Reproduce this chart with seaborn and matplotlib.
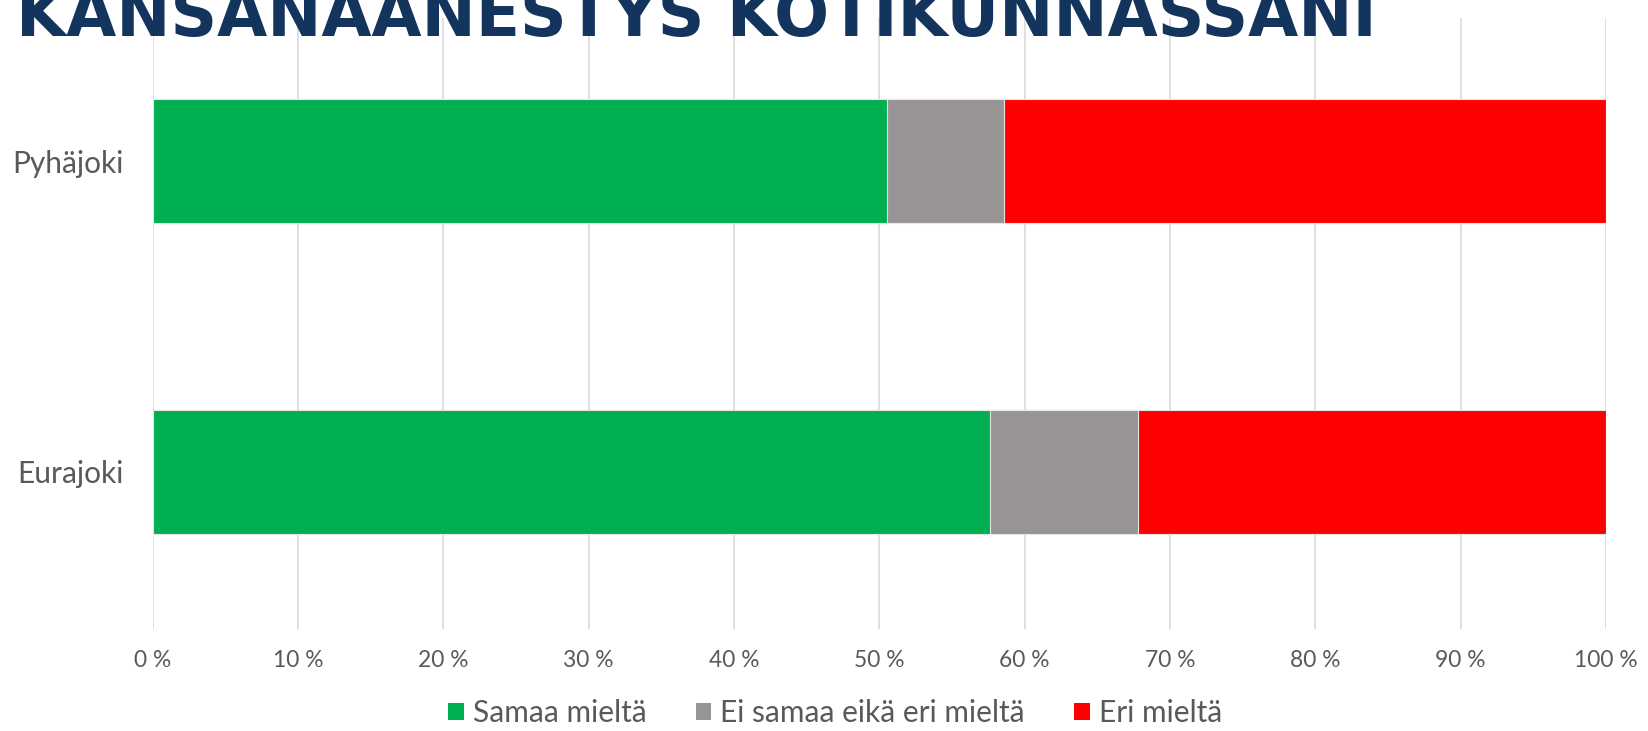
import matplotlib
matplotlib.use("Agg")
import matplotlib.pyplot as plt
import seaborn as sns
import pandas as pd
import numpy as np
from matplotlib.patches import Patch

categories = ["Pyhäjoki", "Eurajoki"]
samaa = [50.5, 57.6]
ei_samaa_eika_eri = [8.1, 10.2]
eri = [41.4, 32.2]
series_names = ["Samaa mieltä", "Ei samaa eikä eri mieltä", "Eri mieltä"]
colors = ["#00B050", "#989395", "#FF0000"]
x_ticks = [0, 10, 20, 30, 40, 50, 60, 70, 80, 90, 100]
title = "KANSANÄÄNESTYS KOTIKUNNASSANI"

sns.set_theme(style="white")
plt.rcParams['font.family'] = ['Lato', 'DejaVu Sans']

fig = plt.figure(figsize=(16.49, 7.31), dpi=100)
ax = fig.add_axes([152.5/1649, 1-629/731, (1606-152.5)/1649, (629-18)/731])

df = pd.DataFrame({"cat": categories, "s": samaa, "e": ei_samaa_eika_eri, "r": eri})
cum3 = df["s"] + df["e"] + df["r"]
cum2 = df["s"] + df["e"]
cum1 = df["s"]
for vals, c in [(cum3, colors[2]), (cum2, colors[1]), (cum1, colors[0])]:
    sns.barplot(x=vals, y=df["cat"], orient="h", color=c, width=0.4,
                edgecolor="#e6e6e6", linewidth=0.8, ax=ax, saturation=1)

ax.set_xlim(0, 100)
ax.set_ylim(1.505, -0.46)
ax.set_xticks(x_ticks)
ax.set_xticklabels([f"{t} %" for t in x_ticks], fontsize=16.4, color="#595959")
ax.tick_params(axis="x", length=0, pad=15)
ax.tick_params(axis="y", length=0, pad=21, labelsize=21.5, labelcolor="#595959")
ax.set_xlabel("")
ax.set_ylabel("")
ax.xaxis.grid(True, color="#d9d9d9", linewidth=1.2)
ax.set_axisbelow(True)
for s in ax.spines.values():
    s.set_visible(False)

handles = [Patch(facecolor=c, edgecolor="none") for c in colors]
fig.legend(handles, series_names, loc="center", bbox_to_anchor=(835/1649, 1-713/731),
           ncol=3, frameon=False, fontsize=21.5, labelcolor="#595959",
           handlelength=0.53, handleheight=0.53, handletextpad=0.3, columnspacing=1.65)

t = fig.text(16/1649, 1-36/731, title, fontsize=80, fontweight="bold",
             color="#13345C", ha="left", va="baseline", family=["DejaVu Sans"])
fig.canvas.draw()
bb = t.get_window_extent()
t.set_fontsize(80 * 1362 / bb.width)

fig.savefig("out.png", dpi=100)
